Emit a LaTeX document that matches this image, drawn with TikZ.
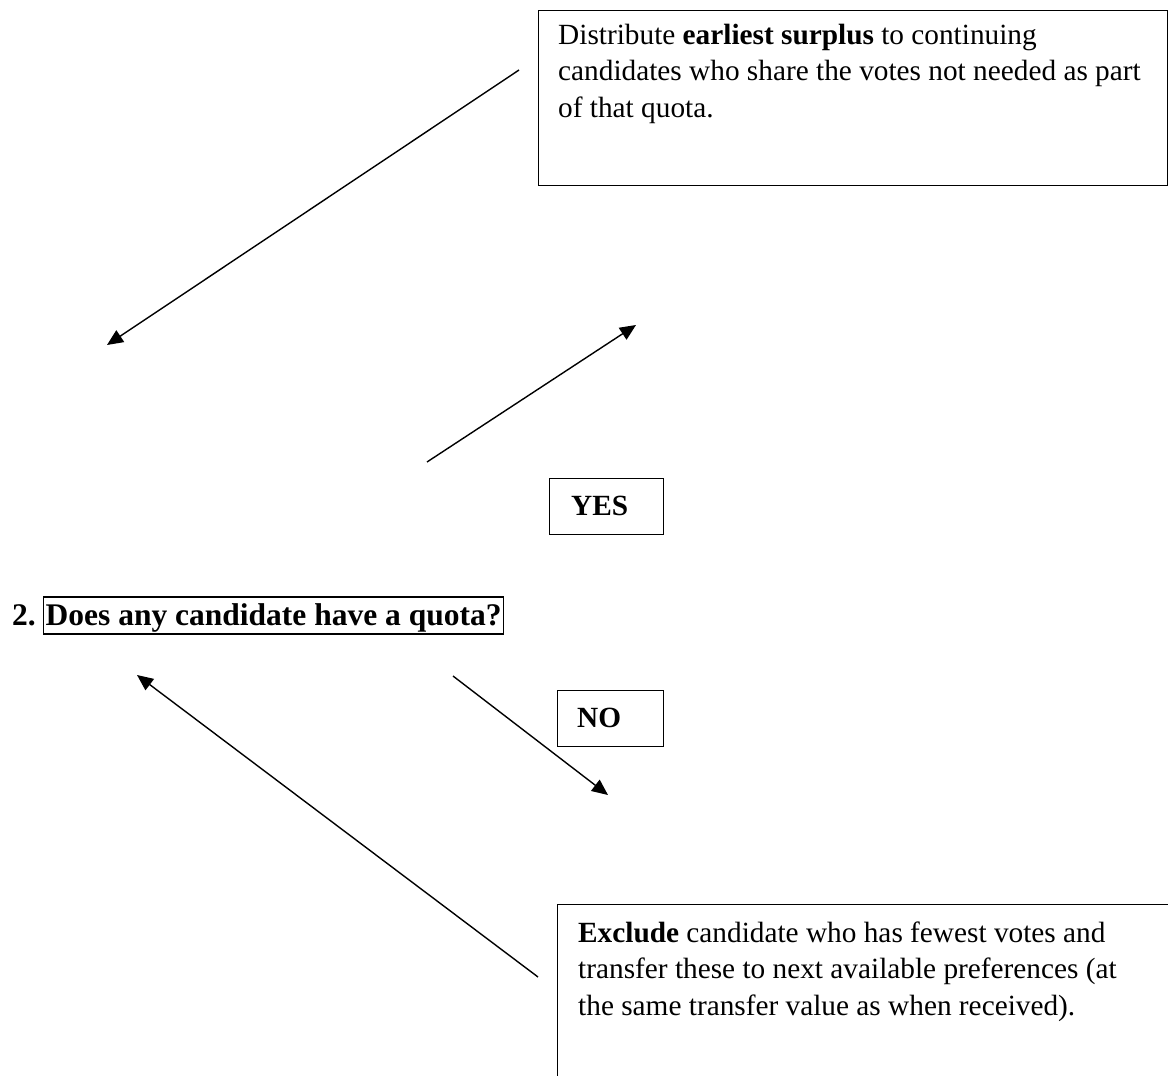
\documentclass[tikz,border=0pt]{standalone}
\usepackage{fontspec}
\setmainfont{Liberation Serif}
\usetikzlibrary{arrows.meta}
\begin{document}
\begin{tikzpicture}[x=1pt,y=-1pt,
  box/.style={draw, line width=1.4pt, inner sep=0pt},
  bodyline/.style={anchor=base west, inner sep=0pt, font=\fontsize{29.3}{36.5}\selectfont},
  boldline/.style={anchor=base west, inner sep=0pt, font=\fontsize{29.3}{36.5}\selectfont\bfseries},
  headline/.style={anchor=base west, font=\fontsize{31.5}{38}\selectfont\bfseries},
  arr/.style={line width=1.4pt, -{Triangle[length=16pt,width=14pt]}}]
\useasboundingbox (0,0) rectangle (1168,1076);
\clip (0,0) rectangle (1168,1076);
\fill[white] (0,0) rectangle (1168,1076);

% top box
\node[box, anchor=north west, minimum width=629pt, minimum height=175pt] (topbox) at (538,10) {};
\node[bodyline] (t1) at (558,44) {Distribute \textbf{earliest surplus} to continuing};
\node[bodyline] (t2) at (558,80.5) {candidates who share the votes not needed as part};
\node[bodyline] (t3) at (558,117) {of that quota.};

% YES box
\node[box, anchor=north west, minimum width=114pt, minimum height=56pt] (yesbox) at (549,478) {};
\node[boldline] (yes) at (571,515) {YES};

% question
\node[headline, inner sep=0pt] (num) at (12,625) {2.};
\node[headline, draw, line width=1.4pt, inner xsep=2pt, inner ysep=0pt, text height=28pt, text depth=9pt] (q) at (43,625) {Does any candidate have a quota?};

% NO box
\node[box, anchor=north west, minimum width=106pt, minimum height=56pt] (nobox) at (557,690) {};
\node[boldline] (no) at (577,727) {NO};

% bottom box
\node[box, anchor=north west, minimum width=640pt, minimum height=200pt] (botbox) at (557,904) {};
\node[bodyline] (b1) at (578,942) {\textbf{Exclude} candidate who has fewest votes and};
\node[bodyline] (b2) at (578,978.5) {transfer these to next available preferences (at};
\node[bodyline] (b3) at (578,1015) {the same transfer value as when received).};

% connector ends
\coordinate (a1s) at (519,70);
\coordinate (a1e) at (107,345);
\coordinate (a2s) at (427,462);
\coordinate (a2e) at (636,325);
\coordinate (a3s) at (453,676);
\coordinate (a3e) at (608,795);
\coordinate (a4s) at (538,977);
\coordinate (a4e) at (137,675);

\draw[arr] (a1s) -- (a1e);
\draw[arr] (a2s) -- (a2e);
\draw[arr] (a3s) -- (a3e);
\draw[arr] (a4s) -- (a4e);
\end{tikzpicture}
\end{document}
